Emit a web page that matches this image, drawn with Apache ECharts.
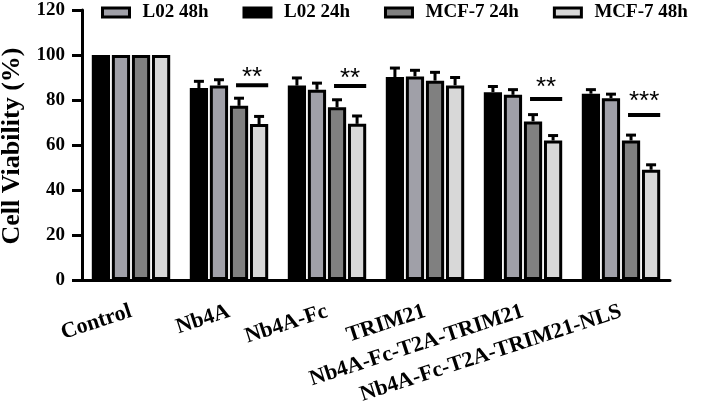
<!DOCTYPE html>
<html>
<head>
<meta charset="utf-8">
<script src="https://cdn.jsdelivr.net/npm/echarts@6/dist/echarts.min.js"></script>
<style>
html, body { margin: 0; padding: 0; background: #fff; }
#main { width: 706px; height: 415px; }
</style>
</head>
<body>
<div id="main"></div>
<script>
// 数据
var categories = ['Control', 'Nb4A', 'Nb4A-Fc', 'TRIM21', 'Nb4A-Fc-T2A-TRIM21', 'Nb4A-Fc-T2A-TRIM21-NLS'];
var l02_24h = [100, 85.3, 86.4, 90.2, 83.5, 82.8];
var l02_48h = [100, 86.5, 84.6, 90.5, 82.3, 80.8];
var mcf_24h = [100, 77.4, 76.8, 88.6, 70.5, 62];
var mcf_48h = [100, 69.3, 69.4, 86.5, 62, 49];
var l02_24h_err = [0, 3, 3.4, 4, 2.5, 1.8];
var l02_48h_err = [0, 2.5, 2.9, 2.7, 2.3, 1.8];
var mcf_24h_err = [0, 3.4, 3.3, 3.7, 3, 2.4];
var mcf_48h_err = [0, 3.4, 3.5, 3.5, 2.2, 2.2];
var sigCats = [1, 2, 4, 5];
var sigLineY = [86.6, 86.2, 80.4, 73.3];
var sigTextY = [90, 89.5, 85.5, 79.3];
var sigText = ['**', '**', '**', '***'];

var FONT = 'Liberation Serif';
var CAT_GAP = 0.2, BAR_GAP = 0.1, N = 4;

var myChart = echarts.init(document.getElementById('main'));

// 柱子在组内的位置
function barPos(api, c, s) {
    var band = api.size([1, 0])[0];
    var groupW = band * (1 - CAT_GAP);
    var bw = groupW / (N + (N - 1) * BAR_GAP);
    var left = api.coord([c, 0])[0] - groupW / 2 + s * bw * (1 + BAR_GAP);
    return { left: left, width: bw, center: left + bw / 2 };
}

var allVals = [l02_24h, l02_48h, mcf_24h, mcf_48h];
var allErr = [l02_24h_err, l02_48h_err, mcf_24h_err, mcf_48h_err];
var errData = [];
for (var s = 0; s < 4; s++) {
    for (var c = 0; c < categories.length; c++) {
        if (allErr[s][c] > 0) errData.push([c, s, allVals[s][c], allErr[s][c]]);
    }
}
var sigData = sigCats.map(function (c, i) { return [c, sigLineY[i], sigTextY[i], i]; });

function renderErr(params, api) {
    var p = barPos(api, api.value(0), api.value(1));
    var y0 = api.coord([api.value(0), api.value(2)])[1];
    var y1 = api.coord([api.value(0), api.value(2) + api.value(3)])[1];
    var st = { stroke: '#000', lineWidth: 3 };
    return {
        type: 'group',
        children: [
            { type: 'line', shape: { x1: p.center, y1: y0, x2: p.center, y2: y1 }, style: st },
            { type: 'line', shape: { x1: p.center - 5, y1: y1, x2: p.center + 5, y2: y1 }, style: st }
        ]
    };
}

function renderSig(params, api) {
    var c = api.value(0);
    var a = barPos(api, c, 2), b = barPos(api, c, 3);
    var x1 = a.center - 3, x2 = b.left + b.width;
    var yl = api.coord([c, api.value(1)])[1];
    var yt = api.coord([c, api.value(2)])[1];
    return {
        type: 'group',
        children: [
            { type: 'line', shape: { x1: x1, y1: yl, x2: x2, y2: yl }, style: { stroke: '#000', lineWidth: 4 } },
            { type: 'text', x: (x1 + x2) / 2, y: yt,
              style: { text: sigText[api.value(3)], textAlign: 'center', textVerticalAlign: 'middle',
                       font: '26px "Liberation Sans"', fill: '#000' } }
        ]
    };
}

function bar(name, data, color) {
    return {
        name: name, type: 'bar', data: data,
        barCategoryGap: '20%', barGap: '10%',
        itemStyle: { color: color, borderColor: '#000', borderWidth: 3 }
    };
}

var option = {
    animation: false,
    backgroundColor: '#fff',
    grid: { left: 82, right: 36, top: 10, bottom: 135, containLabel: false, outerBoundsMode: 'none' },
    legend: {
        data: ['L02 48h', 'L02 24h', 'MCF-7 24h', 'MCF-7 48h'],
        left: 96, top: -2,
        itemWidth: 27, itemHeight: 9, itemGap: 34,
        icon: 'rect',
        itemStyle: { borderColor: '#000', borderWidth: 3 },
        textStyle: { fontFamily: FONT, fontWeight: 'bold', fontSize: 19, color: '#000', padding: [0, 0, 0, 8] }
    },
    xAxis: {
        type: 'category', data: categories,
        axisLine: { lineStyle: { color: '#000', width: 3 } },
        axisTick: { alignWithLabel: true, length: 10, lineStyle: { color: '#000', width: 3 } },
        axisLabel: { rotate: 18, margin: 31, fontFamily: FONT, fontWeight: 'bold', fontSize: 22, color: '#000', interval: 0 }
    },
    yAxis: {
        type: 'value', min: 0, max: 120, interval: 20,
        name: 'Cell Viability (%)', nameLocation: 'middle', nameGap: 54,
        nameTextStyle: { fontFamily: FONT, fontWeight: 'bold', fontSize: 26, color: '#000', padding: [0, 2, 0, 0] },
        splitLine: { show: false },
        axisLine: { show: true, lineStyle: { color: '#000', width: 3 } },
        axisTick: { show: true, length: 10, lineStyle: { color: '#000', width: 3 } },
        axisLabel: { margin: 17, fontFamily: FONT, fontWeight: 'bold', fontSize: 19, color: '#000' }
    },
    series: [
        bar('L02 24h', l02_24h, '#000000'),
        bar('L02 48h', l02_48h, '#a0a0a8'),
        bar('MCF-7 24h', mcf_24h, '#808080'),
        bar('MCF-7 48h', mcf_48h, '#d8d8d8'),
        { type: 'custom', data: errData, renderItem: renderErr, z: 1, silent: true },
        { type: 'custom', data: sigData, renderItem: renderSig, z: 3, silent: true }
    ]
};
myChart.setOption(option);
</script>
</body>
</html>
